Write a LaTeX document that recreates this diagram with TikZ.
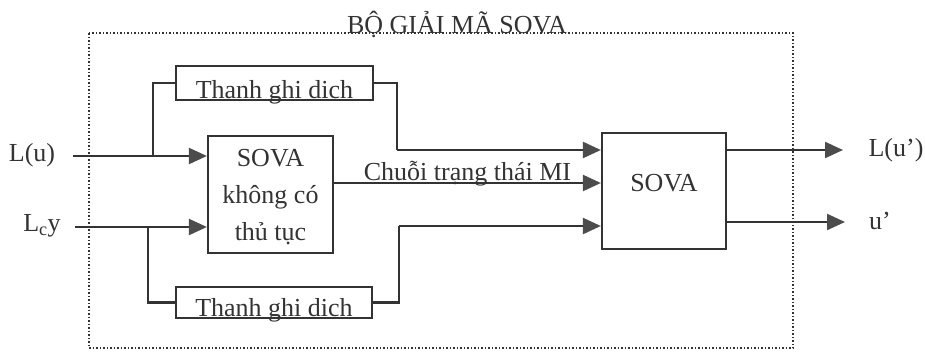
\documentclass[tikz,border=0pt]{standalone}
\usepackage{fontspec}
\setmainfont{Liberation Serif}
\usetikzlibrary{arrows.meta}
\definecolor{ink}{gray}{0.2}
\definecolor{tipc}{gray}{0.3}
\begin{document}
\begin{tikzpicture}[x=1pt,y=-1pt,
  wire/.style={draw=ink,line width=2.2pt},
  arr/.style={wire,-{Triangle[length=18pt,width=16pt,color=tipc]}},
  blk/.style={draw=ink,line width=2.2pt,rectangle,inner sep=0pt},
  lbl/.style={font=\fontsize{26}{29}\selectfont,text=ink,inner sep=0pt}]
\useasboundingbox (0,0) rectangle (925,351);
% outer dotted frame
\draw[draw=ink,line width=1.5pt,dotted] (89,33) rectangle (793,348);
\node[lbl,anchor=base] (title) at (457,33) {BỘ GIẢI MÃ SOVA};
% blocks
\node[blk,minimum width=197pt,minimum height=34pt] (reg1) at (274.5,83) {};
\node[lbl,anchor=base] (reg1t) at (274.5,98) {Thanh ghi dich};
\node[blk,minimum width=196pt,minimum height=31pt] (reg2) at (274,302.5) {};
\node[lbl,anchor=base] (reg2t) at (274,316) {Thanh ghi dich};
\node[blk,minimum width=125pt,minimum height=117pt] (sova1) at (270.5,194.5) {};
\node[lbl,align=center,font=\fontsize{26}{37}\selectfont] (sova1t) at (270.5,197) {SOVA\\không có\\thủ tục};
\node[blk,minimum width=124pt,minimum height=116pt] (sova2) at (664,191) {};
\node[lbl] (sova2t) at (664,183) {SOVA};
% input labels
\node[lbl] (lu) at (32,155) {L(u)};
\node[lbl] (lcy) at (42,226) {L\textsubscript{c}y};
\node[lbl] (lup) at (896,150) {L(u’)};
\node[lbl] (up) at (880,221) {u’};
% coordinates
\coordinate (lus) at (73,156);
\coordinate (b1) at (153,156);
\coordinate (lcys) at (75,227);
\coordinate (b2) at (148,227);
\coordinate (r1) at (397,150);
\coordinate (r2) at (399,226);
\coordinate (o1) at (843,150);
\coordinate (o2) at (845,222);
% connectors
\draw[arr] (lus) -- (lus -| sova1.west);
\draw[wire] (b1) |- (reg1.west);
\draw[arr] (lcys) -- (lcys -| sova1.west);
\draw[wire] (b2) |- (reg2.west);
\draw[wire] (reg1.east) -| (r1);
\draw[arr] (r1) -- (r1 -| sova2.west);
\draw[wire] (reg2.east) -| (r2);
\draw[arr] (r2) -- (r2 -| sova2.west);
\draw[arr] (sova1.east |- 0,183) -- node[lbl,anchor=base,yshift=3pt] (mi) {Chuỗi trạng thái MI} (sova2.west |- 0,183);
\draw[arr] (sova2.east |- o1) -- (o1);
\draw[arr] (sova2.east |- o2) -- (o2);
\end{tikzpicture}
\end{document}
